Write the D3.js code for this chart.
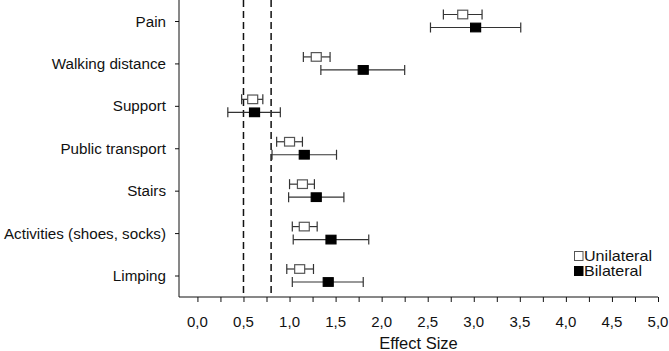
<!DOCTYPE html>
<html>
<head>
<meta charset="utf-8">
<script src="https://cdn.jsdelivr.net/npm/d3@7"></script>
<style>
  body { margin: 0; background: #fff; }
  text { font-family: "Liberation Sans", Arial, sans-serif; fill: #111; }
</style>
</head>
<body>
<div id="chart"></div>
<script>
// data kategori + effect size (mean, CI bawah, CI atas)
const categories = ["Pain", "Walking distance", "Support", "Public transport", "Stairs", "Activities (shoes, socks)", "Limping"];

const uniMean = [2.88, 1.29, 0.60, 1.00, 1.14, 1.16, 1.11];
const uniLow  = [2.67, 1.15, 0.48, 0.86, 1.00, 1.03, 0.97];
const uniHigh = [3.09, 1.44, 0.71, 1.14, 1.27, 1.30, 1.26];

const biMean = [3.02, 1.80, 0.62, 1.16, 1.29, 1.45, 1.42];
const biLow  = [2.53, 1.34, 0.33, 0.81, 0.99, 1.04, 1.03];
const biHigh = [3.51, 2.25, 0.90, 1.51, 1.59, 1.86, 1.80];

const xTicks = [0, 0.5, 1, 1.5, 2, 2.5, 3, 3.5, 4, 4.5, 5];
const minorTicks = d3.range(0, 5.001, 0.25);
const refLines = [0.5, 0.8];

const W = 669, H = 351;
const plot = { left: 179, right: 658, top: 0, bottom: 297 };

const svg = d3.select("#chart").append("svg")
  .attr("width", W).attr("height", H);

const x = d3.scaleLinear().domain([-0.2, 5]).range([plot.left, plot.right]);
const y = d3.scalePoint().domain(categories).range([21, 275.5]);

// helper teks (sx untuk legenda yang agak melebar)
function addText(g, tx, ty, size, anchor, str, sx = 1) {
  return g.append("text")
    .attr("transform", `translate(${tx},${ty}) scale(${sx},1)`)
    .attr("text-anchor", anchor)
    .attr("font-size", size)
    .text(str);
}

// garis referensi putus-putus
svg.selectAll(".ref")
  .data(refLines)
  .enter().append("line")
  .attr("x1", d => x(d)).attr("x2", d => x(d))
  .attr("y1", plot.top).attr("y2", plot.bottom)
  .attr("stroke", "#111")
  .attr("stroke-width", 1.5)
  .attr("stroke-dasharray", "7,4");

// sumbu x
const xAxis = svg.append("g")
  .attr("transform", `translate(0,${plot.bottom})`)
  .call(d3.axisBottom(x).tickValues(minorTicks).tickSize(5).tickFormat(""));
xAxis.select(".domain").attr("d", `M${plot.left},0H${plot.right}`).attr("stroke", "#111");
xAxis.selectAll(".tick line").attr("stroke", "#111");

const xLab = svg.append("g");
xTicks.forEach(t => addText(xLab, x(t), 326.5, "15px", "middle", d3.format(".1f")(t).replace(".", ",")));

addText(svg, (plot.left + plot.right) / 2, 348.5, "16.5px", "middle", "Effect Size");

// sumbu y
const yAxis = svg.append("g")
  .attr("transform", `translate(${plot.left},0)`)
  .call(d3.axisLeft(y).tickSize(4).tickFormat(""));
yAxis.select(".domain").attr("d", `M0,${plot.top}V${plot.bottom}`).attr("stroke", "#111");
yAxis.selectAll(".tick line").attr("stroke", "#111");

const yLab = svg.append("g");
categories.forEach(c => addText(yLab, 166, y(c) + 5.5, "15.2px", "end", c));

// error bar + marker
const series = [
  { name: "Unilateral", mean: uniMean, low: uniLow, high: uniHigh, dy: -6.5, fill: "#fff", stroke: "#555" },
  { name: "Bilateral",  mean: biMean,  low: biLow,  high: biHigh,  dy: 6.5,  fill: "#000", stroke: "#000" }
];

const cap = 5, mw = 10, mh = 8.6;

series.forEach(s => {
  const rows = categories.map((c, i) => ({ c, m: s.mean[i], lo: s.low[i], hi: s.high[i] }));
  const g = svg.append("g");

  g.selectAll(".bar").data(rows).enter().append("line")
    .attr("x1", d => x(d.lo)).attr("x2", d => x(d.hi))
    .attr("y1", d => y(d.c) + s.dy).attr("y2", d => y(d.c) + s.dy)
    .attr("stroke", "#333").attr("stroke-width", 1.2);

  ["lo", "hi"].forEach(k => {
    g.selectAll(".cap-" + k).data(rows).enter().append("line")
      .attr("x1", d => x(d[k])).attr("x2", d => x(d[k]))
      .attr("y1", d => y(d.c) + s.dy - cap).attr("y2", d => y(d.c) + s.dy + cap)
      .attr("stroke", "#333").attr("stroke-width", 1.2);
  });

  g.selectAll(".mk").data(rows).enter().append("rect")
    .attr("x", d => x(d.m) - mw / 2)
    .attr("y", d => y(d.c) + s.dy - mh / 2)
    .attr("width", mw).attr("height", mh)
    .attr("fill", s.fill)
    .attr("stroke", s.stroke)
    .attr("stroke-width", 1.2);
});

// legenda
const legend = svg.append("g");
const legGap = 15;
series.forEach((s, i) => {
  legend.append("rect")
    .attr("x", 574.5).attr("y", 251.5 + i * legGap)
    .attr("width", 8.5).attr("height", 9)
    .attr("fill", s.fill)
    .attr("stroke", s.stroke)
    .attr("stroke-width", 1);
  addText(legend, 584, 261 + i * legGap, "14px", "start", s.name, 1.15);
});
</script>
</body>
</html>
